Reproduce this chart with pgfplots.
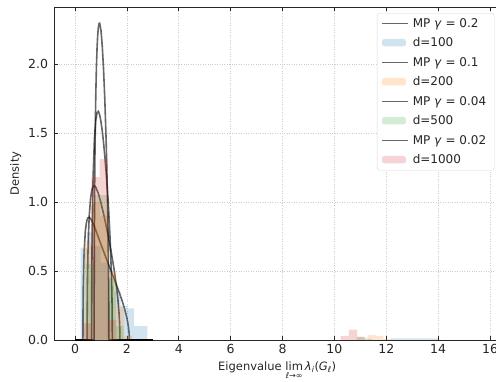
\documentclass[border=0pt]{standalone}
\usepackage{amsmath}
\usepackage{fontspec}
\setmainfont{DejaVu Sans}
\usepackage{pgfplots}
\pgfplotsset{compat=1.18}
\usetikzlibrary{calc}
\definecolor{tabblue}{HTML}{1F77B4}
\definecolor{taborange}{HTML}{FF7F0E}
\definecolor{tabgreen}{HTML}{2CA02C}
\definecolor{tabred}{HTML}{D62728}
\begin{document}
\begin{tikzpicture}[font=\fontsize{11.5}{13.8}\selectfont]
\begin{axis}[
 scale only axis, width=446.4pt, height=333pt,
 xmin=-0.81, xmax=16.4, ymin=0, ymax=2.413,
 xtick={0,2,4,6,8,10,12,14,16}, ytick={0,0.5,1,1.5,2},
 yticklabel style={/pgf/number format/.cd, fixed, fixed zerofill, precision=1, /tikz/.cd, xshift=-2.5pt},
 xticklabel style={yshift=-1pt},
 tick label style={font=\fontsize{12.5}{15}\selectfont, text=black!85},
 /pgf/number format/assume math mode=true,
 tick align=inside, major tick length=4pt,
 grid=major, grid style={dotted, gray!40, line width=0.6pt},
 axis line style={black!85, line width=0.8pt},
 tick style={black!85, line width=0.7pt},
 xlabel={Eigenvalue $\mathop{\text{lim}}\limits_{\text{\itshape ℓ→∞}}\text{\itshape λ}_{\text{\itshape i}}\text{(}\text{\itshape G}_{\text{\itshape ℓ}}\text{)}$},
 ylabel={Density},
 label style={text=black!85},
 xlabel style={yshift=-1pt},
 legend style={at={(1,1)}, anchor=north east, xshift=-6pt, yshift=-6pt, draw=gray!30, rounded corners=2.5pt, fill=white, inner xsep=4pt, inner ysep=4pt, row sep=7pt, font=\fontsize{12}{14}\selectfont, text=black!85, nodes={inner xsep=4pt, inner ysep=1pt}},
 legend cell align=left,
 mp/.style={black, opacity=0.6, line width=1.6pt,
   legend image code/.code={\draw[black, opacity=0.6, line width=1.6pt] (0pt,0pt) -- (26pt,0pt);}},
]
% MP gamma = 0.2
\addplot[mp] coordinates {(0,0)(0.3056,0)(0.31,0.2282)(0.32,0.3979)(0.35,0.6330)(0.40,0.7958)(0.45,0.8618)(0.50,0.8861)(0.55,0.8890)(0.60,0.8798)(0.70,0.8431)(0.80,0.7958)(0.90,0.7450)(1.0,0.6937)(1.1,0.6430)(1.2,0.5931)(1.3,0.5441)(1.4,0.4955)(1.5,0.4470)(1.6,0.3979)(1.7,0.3472)(1.8,0.2933)(1.9,0.2332)(1.95,0.1989)(2.0,0.1592)(2.05,0.1081)(2.08,0.0612)(2.09,0.0338)(2.0944,0)(3,0)};
\addlegendentry{MP \textit{γ} = 0.2}
\addplot[ybar interval, draw=none, fill=tabblue, fill opacity=0.2,
  legend image code/.code={\fill[tabblue, fill opacity=0.2] (0pt,-3.5pt) rectangle (24pt,4pt);}]
  coordinates {(0.22,0.67)(0.477,0.78)(0.734,0.68)(0.991,0.56)(1.248,0.45)(1.505,0.35)(1.762,0.25)(2.019,0.23)(2.276,0.10)(2.533,0.10)(2.79,0)(12.19,0.012)(12.45,0.012)(12.70,0.012)(12.96,0.012)(13.22,0.012)(13.48,0.012)(13.73,0.012)(13.99,0)};
\addlegendentry{d=100}
% MP gamma = 0.1
\addplot[mp] coordinates {(0,0)(0.4675,0)(0.47,0.1885)(0.48,0.4141)(0.50,0.6366)(0.52,0.7719)(0.55,0.9036)(0.60,1.0273)(0.65,1.0882)(0.70,1.1138)(0.75,1.1179)(0.80,1.1077)(0.90,1.0610)(1.0,0.9939)(1.1,0.9151)(1.2,0.8283)(1.3,0.7346)(1.4,0.6330)(1.5,0.5198)(1.6,0.3853)(1.65,0.3012)(1.7,0.1872)(1.72,0.1156)(1.73,0.0512)(1.7325,0)(3,0)};
\addlegendentry{MP \textit{γ} = 0.1}
\addplot[ybar interval, draw=none, fill=taborange, fill opacity=0.2,
  legend image code/.code={\fill[taborange, fill opacity=0.2] (0pt,-3.5pt) rectangle (24pt,4pt);}]
  coordinates {(0.35,0.70)(0.66,1.0)(0.97,0.90)(1.28,0.50)(1.59,0.24)(1.90,0.03)(2.21,0)(11.27,0.035)(11.58,0.03)(11.89,0.008)(12.2,0)};
\addlegendentry{d=200}
% MP gamma = 0.04
\addplot[mp] coordinates {(0,0)(0.64,0)(0.645,0.3889)(0.66,0.7530)(0.68,1.0202)(0.70,1.1977)(0.75,1.4616)(0.80,1.5915)(0.85,1.6477)(0.90,1.6565)(0.95,1.6324)(1.0,1.5836)(1.05,1.5153)(1.1,1.4305)(1.15,1.3306)(1.2,1.2156)(1.25,1.0837)(1.3,0.9304)(1.35,0.7450)(1.4,0.4955)(1.42,0.3500)(1.43,0.2473)(1.44,0)(3,0)};
\addlegendentry{MP \textit{γ} = 0.04}
\addplot[ybar interval, draw=none, fill=tabgreen, fill opacity=0.2,
  legend image code/.code={\fill[tabgreen, fill opacity=0.2] (0pt,-3.5pt) rectangle (24pt,4pt);}]
  coordinates {(0.42,0.55)(0.71,1.05)(1.00,1.05)(1.29,0.43)(1.58,0.10)(1.87,0)(10.86,0.025)(11.15,0.01)(11.44,0)};
\addlegendentry{d=500}
% MP gamma = 0.02
\addplot[mp] coordinates {(0,0)(0.7372,0)(0.74,0.4302)(0.75,0.8940)(0.76,1.1660)(0.77,1.3672)(0.80,1.7682)(0.825,1.9762)(0.85,2.1163)(0.875,2.2086)(0.90,2.2646)(0.925,2.2919)(0.95,2.2955)(1.0,2.2451)(1.05,2.1315)(1.1,1.9626)(1.15,1.7383)(1.2,1.4468)(1.25,1.0480)(1.28,0.6923)(1.29,0.5198)(1.30,0.2449)(1.3028,0)(3,0)};
\addlegendentry{MP \textit{γ} = 0.02}
\addplot[ybar interval, draw=none, fill=tabred, fill opacity=0.2,
  legend image code/.code={\fill[tabred, fill opacity=0.2] (0pt,-3.5pt) rectangle (24pt,4pt);}]
  coordinates {(0.31,0.12)(0.63,1.18)(0.95,1.31)(1.27,0.145)(1.59,0)(10.24,0.03)(10.56,0.075)(10.88,0.02)(11.2,0)};
\addlegendentry{d=1000}
\end{axis}
\pgfresetboundingbox
\path[use as bounding box] ($(current axis.south west)+(-54pt,-41pt)$) rectangle ($(current axis.north east)+(-4.4pt,7pt)$);
\end{tikzpicture}
\end{document}
